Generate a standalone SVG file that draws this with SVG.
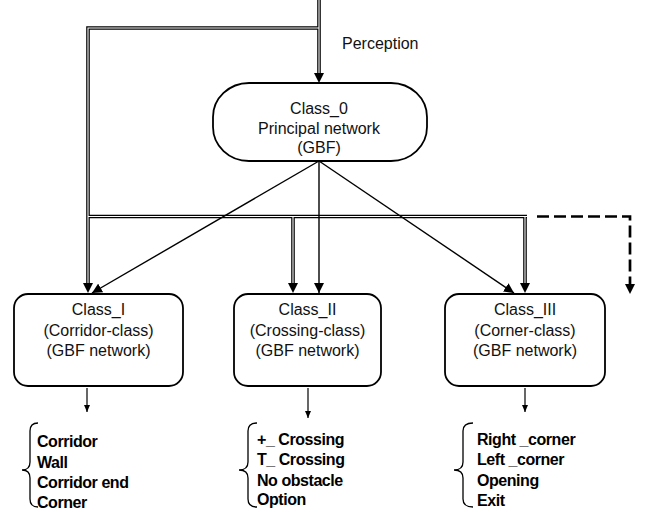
<svg xmlns="http://www.w3.org/2000/svg" width="645" height="517" viewBox="0 0 645 517">
<style>
.box{fill:#fff;stroke:#000;stroke-width:1.8}
.t{font-family:"Liberation Sans",Arial,sans-serif;font-size:16px;fill:#111;text-anchor:middle}
.lst{font-family:"Liberation Sans",Arial,sans-serif;font-size:16px;font-weight:bold;letter-spacing:-0.45px;fill:#000}
.dblo{fill:none;stroke:#000;stroke-width:3.6;stroke-linejoin:miter}
.dbli{fill:none;stroke:#fff;stroke-width:1.1;stroke-linejoin:miter}
.thin{fill:none;stroke:#000;stroke-width:1.4}
.small{fill:none;stroke:#000;stroke-width:1.2}
.dash{fill:none;stroke:#000;stroke-width:2.7;stroke-dasharray:12 5}
.brace{fill:none;stroke:#000;stroke-width:1.3}
</style>
<defs>
<marker id="arrowD" markerUnits="userSpaceOnUse" markerWidth="10" markerHeight="10" refX="0" refY="5" orient="auto">
<path d="M0,0 L10,5 L0,10 z" fill="#000"/>
</marker>
<marker id="arrowT" markerUnits="userSpaceOnUse" markerWidth="10" markerHeight="10" refX="10" refY="5" orient="auto">
<path d="M0,0 L10,5 L0,10 z" fill="#000"/>
</marker>
<marker id="arrowS" markerUnits="userSpaceOnUse" markerWidth="7" markerHeight="6" refX="7" refY="3" orient="auto">
<path d="M0,0 L7,3 L0,6 z" fill="#000"/>
</marker>
</defs>

<g id="connectors">
<path class="dblo" d="M319,0 V73" marker-end="url(#arrowD)"/>
<path class="dblo" d="M319,28 H88 V283" marker-end="url(#arrowD)"/>
<path class="dblo" d="M88,216.5 H527"/>
<path class="dblo" d="M293,216.5 V283" marker-end="url(#arrowD)"/>
<path class="dblo" d="M525,216.5 V283" marker-end="url(#arrowD)"/>
<path class="dbli" d="M319,0 V73"/>
<path class="dbli" d="M319,28 H88 V283"/>
<path class="dbli" d="M88,216.5 H527"/>
<path class="dbli" d="M293,216.5 V283"/>
<path class="dbli" d="M525,216.5 V283"/>
<path class="dash" d="M537,216.5 H630 V284" marker-end="url(#arrowD)"/>
<path class="thin" d="M319,161 L92,293" marker-end="url(#arrowT)"/>
<path class="thin" d="M319,161 V293" marker-end="url(#arrowT)"/>
<path class="thin" d="M319,161 L514,293" marker-end="url(#arrowT)"/>
<path class="small" d="M87,388 V412" marker-end="url(#arrowS)"/>
<path class="small" d="M308,388 V418" marker-end="url(#arrowS)"/>
<path class="small" d="M525,388 V412" marker-end="url(#arrowS)"/>
</g>

<text class="t" x="342" y="49" style="text-anchor:start">Perception</text>

<g id="class0">
<rect class="box" x="213" y="83" width="214" height="78" rx="36" ry="34"/>
<text class="t" x="319" y="114">Class_0</text>
<text class="t" x="319" y="134">Principal network</text>
<text class="t" x="319" y="153">(GBF)</text>
</g>

<g id="class1">
<rect class="box" x="14" y="294" width="169" height="92" rx="14"/>
<text class="t" x="98.5" y="315">Class_I</text>
<text class="t" x="98.5" y="335.5">(Corridor-class)</text>
<text class="t" x="98.5" y="356">(GBF network)</text>
</g>

<g id="class2">
<rect class="box" x="234" y="294" width="147" height="92" rx="14"/>
<text class="t" x="307.5" y="315">Class_II</text>
<text class="t" x="307.5" y="335.5">(Crossing-class)</text>
<text class="t" x="307.5" y="356">(GBF network)</text>
</g>

<g id="class3">
<rect class="box" x="445" y="294" width="160" height="92" rx="14"/>
<text class="t" x="525" y="315">Class_III</text>
<text class="t" x="525" y="335.5">(Corner-class)</text>
<text class="t" x="525" y="356">(GBF network)</text>
</g>

<g id="list1">
<path class="brace" d="M38,423 Q30,423 30,431 V462 Q30,470 22,470 Q30,470 30,478 V499 Q30,507 38,507"/>
<text class="lst" x="37" y="447">Corridor</text>
<text class="lst" x="37" y="467.5">Wall</text>
<text class="lst" x="37" y="488">Corridor end</text>
<text class="lst" x="37" y="508">Corner</text>
</g>

<g id="list2">
<path class="brace" d="M257,423 Q248,423 248,431 V462 Q248,470 239,470 Q248,470 248,478 V499 Q248,507 257,507"/>
<text class="lst" x="257" y="445">+_ Crossing</text>
<text class="lst" x="257" y="465">T_ Crossing</text>
<text class="lst" x="257" y="486">No obstacle</text>
<text class="lst" x="257" y="505">Option</text>
</g>

<g id="list3">
<path class="brace" d="M473,423 Q463,423 463,431 V462 Q463,470 454,470 Q463,470 463,478 V499 Q463,507 473,507"/>
<text class="lst" x="477" y="445">Right _corner</text>
<text class="lst" x="477" y="465">Left _corner</text>
<text class="lst" x="477" y="486">Opening</text>
<text class="lst" x="477" y="506">Exit</text>
</g>
</svg>
